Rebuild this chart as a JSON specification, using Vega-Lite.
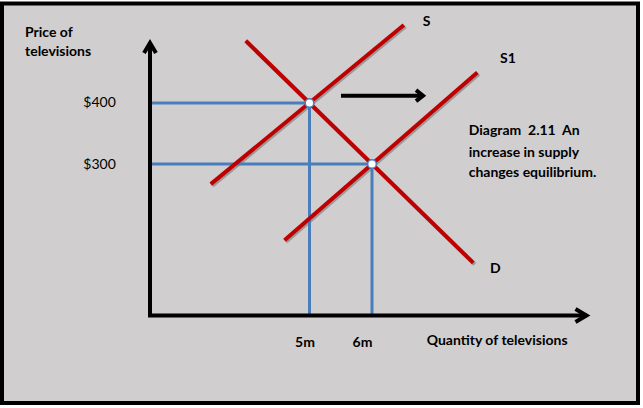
{
  "$schema": "https://vega.github.io/schema/vega-lite/v6.json",
  "width": 643,
  "height": 408,
  "autosize": {"type": "fit", "contains": "padding"},
  "padding": 0,
  "background": "white",
  "config": {"view": {"stroke": null}, "font": "Lato"},
  "datasets": {
    "frame": [{"q1": 0.08, "q2": 10.256, "p1": -91.8, "p2": 563.1}],
    "curves": [
      {"id": "S", "q": 3.42, "p": 267},
      {"id": "S", "q": 6.51, "p": 528},
      {"id": "S1", "q": 4.6, "p": 175},
      {"id": "S1", "q": 7.685, "p": 450},
      {"id": "D", "q": 3.98, "p": 502},
      {"id": "D", "q": 7.62, "p": 138}
    ],
    "guides": [
      {"id": "h400", "q": 2.47, "p": 400, "o": 1},
      {"id": "h400", "q": 5, "p": 400, "o": 2},
      {"id": "h300", "q": 2.47, "p": 300, "o": 1},
      {"id": "h300", "q": 6, "p": 300, "o": 2},
      {"id": "v5", "q": 5, "p": 400, "o": 1},
      {"id": "v5", "q": 5, "p": 53, "o": 2},
      {"id": "v6", "q": 6, "p": 300, "o": 1},
      {"id": "v6", "q": 6, "p": 53, "o": 2}
    ],
    "black": [
      {"id": "axes", "q": 2.448, "p": 498.4, "o": 1},
      {"id": "axes", "q": 2.448, "p": 51.6, "o": 2},
      {"id": "axes", "q": 9.432, "p": 51.6, "o": 3},
      {"id": "yhead", "q": 2.352, "p": 482, "o": 1},
      {"id": "yhead", "q": 2.448, "p": 498.4, "o": 2},
      {"id": "yhead", "q": 2.544, "p": 482, "o": 3},
      {"id": "xhead", "q": 9.256, "p": 62.3, "o": 1},
      {"id": "xhead", "q": 9.432, "p": 51.6, "o": 2},
      {"id": "xhead", "q": 9.256, "p": 41.0, "o": 3},
      {"id": "shift", "q": 5.504, "p": 412, "o": 1},
      {"id": "shift", "q": 6.816, "p": 412, "o": 2},
      {"id": "shead", "q": 6.704, "p": 421, "o": 1},
      {"id": "shead", "q": 6.816, "p": 412, "o": 2},
      {"id": "shead", "q": 6.704, "p": 403, "o": 3}
    ],
    "equilibria": [{"q": 5, "p": 400}, {"q": 6, "p": 300}],
    "labelsLeft": [
      {"t": "Price of", "q": 0.448, "p": 508.2},
      {"t": "televisions", "q": 0.448, "p": 477},
      {"t": "Quantity of televisions", "q": 6.875, "p": 3.3},
      {"t": "S", "q": 6.811, "p": 526.2},
      {"t": "S1", "q": 8.048, "p": 465.1},
      {"t": "D", "q": 7.888, "p": 120.8},
      {"t": "Diagram\u00a0 2.11\u00a0 An", "q": 7.547, "p": 347.5},
      {"t": "increase in supply", "q": 7.547, "p": 312},
      {"t": "changes equilibrium.", "q": 7.547, "p": 279.2}
    ],
    "labelsPrice": [
      {"t": "$400", "q": 1.9, "p": 393},
      {"t": "$300", "q": 1.9, "p": 291.3}
    ],
    "labelsQty": [
      {"t": "5m", "q": 4.928, "p": 0.5},
      {"t": "6m", "q": 5.848, "p": 0.5}
    ]
  },
  "encoding": {
    "x": {"field": "q", "type": "quantitative", "scale": {"domain": [0.048, 10.336], "nice": false, "zero": false}, "axis": null},
    "y": {"field": "p", "type": "quantitative", "scale": {"domain": [-100, 568.85], "nice": false, "zero": false}, "axis": null}
  },
  "layer": [
    {
      "data": {"name": "frame"},
      "mark": {"type": "rect", "fill": "#d0cece", "stroke": "black", "strokeWidth": 4},
      "encoding": {
        "x": {"field": "q1", "type": "quantitative"},
        "x2": {"field": "q2"},
        "y": {"field": "p1", "type": "quantitative"},
        "y2": {"field": "p2"}
      }
    },
    {
      "data": {"name": "curves"},
      "mark": {"type": "line", "stroke": "#6e6e6e", "opacity": 0.55, "strokeWidth": 4, "xOffset": 1.5, "yOffset": 1.5},
      "encoding": {"detail": {"field": "id"}}
    },
    {
      "data": {"name": "guides"},
      "mark": {"type": "line", "stroke": "#4a7ebb", "strokeWidth": 3},
      "encoding": {"detail": {"field": "id"}, "order": {"field": "o"}}
    },
    {
      "data": {"name": "curves"},
      "mark": {"type": "line", "stroke": "#c00000", "strokeWidth": 4},
      "encoding": {"detail": {"field": "id"}}
    },
    {
      "data": {"name": "black"},
      "mark": {"type": "line", "stroke": "black", "strokeWidth": 4, "strokeJoin": "miter", "strokeCap": "butt"},
      "encoding": {"detail": {"field": "id"}, "order": {"field": "o"}}
    },
    {
      "data": {"name": "equilibria"},
      "mark": {"type": "point", "shape": "circle", "filled": true, "fill": "white", "stroke": "#4a7ebb", "strokeWidth": 1.5, "size": 75, "opacity": 1}
    },
    {
      "data": {"name": "labelsLeft"},
      "mark": {"type": "text", "align": "left", "baseline": "alphabetic", "fontWeight": "bold", "fontSize": 14, "color": "black"},
      "encoding": {"text": {"field": "t"}}
    },
    {
      "data": {"name": "labelsPrice"},
      "mark": {"type": "text", "align": "right", "baseline": "alphabetic", "fontWeight": "normal", "fontSize": 14, "color": "black"},
      "encoding": {"text": {"field": "t"}}
    },
    {
      "data": {"name": "labelsQty"},
      "mark": {"type": "text", "align": "center", "baseline": "alphabetic", "fontWeight": "bold", "fontSize": 14, "color": "black"},
      "encoding": {"text": {"field": "t"}}
    }
  ]
}
